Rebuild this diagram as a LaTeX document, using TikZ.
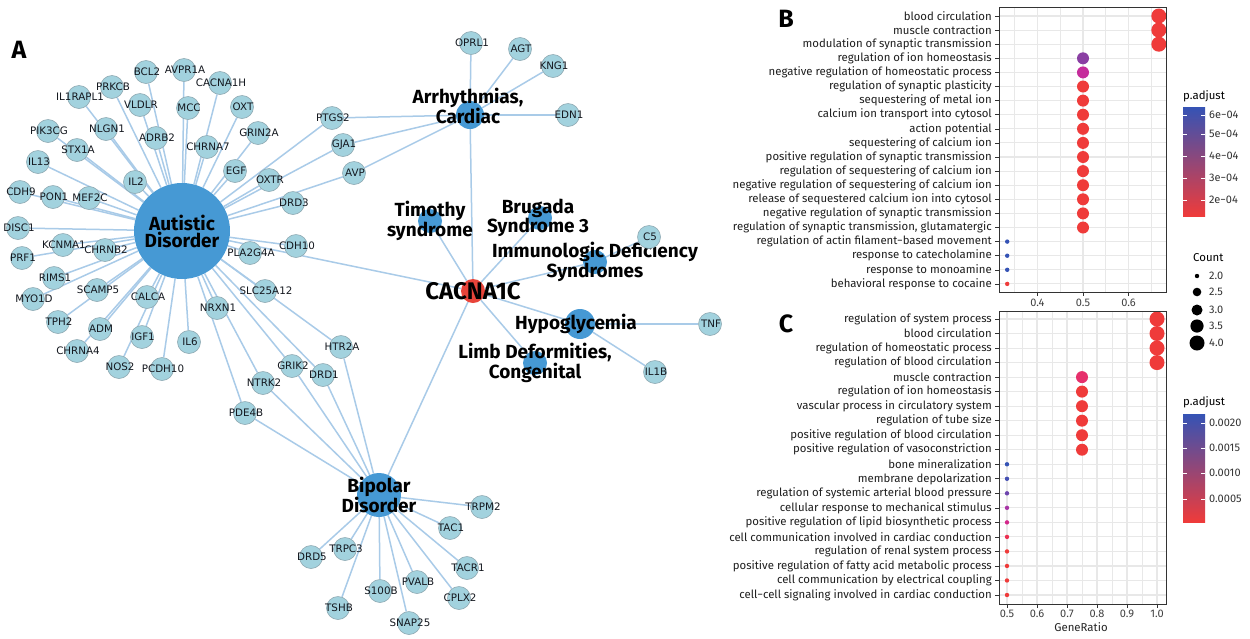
\documentclass[tikz,border=0pt]{standalone}
\usepackage{fontspec}
\setmainfont{Fira Sans}
\newfontfamily\genefont{DejaVu Sans}
\usetikzlibrary{backgrounds}
\definecolor{edgec}{HTML}{A9CBE8}
\definecolor{genec}{HTML}{A2D2DE}
\definecolor{genebd}{HTML}{8FAAB3}
\definecolor{gtxt}{HTML}{14181F}
\definecolor{disc}{HTML}{4699D4}
\definecolor{cacc}{HTML}{E8443A}
\definecolor{pred}{HTML}{EF3B3A}
\definecolor{pred2}{HTML}{EC3152}
\definecolor{ppink}{HTML}{E6306C}
\definecolor{pblue}{HTML}{3553B5}
\definecolor{pblue2}{HTML}{4550B3}
\definecolor{ppurp}{HTML}{8A3FA3}
\definecolor{ppurp2}{HTML}{6E45AE}
\definecolor{pmag}{HTML}{C52C9B}
\definecolor{pmag2}{HTML}{A936A6}
\definecolor{pmag3}{HTML}{D3278A}
\definecolor{gridc}{HTML}{E8E8E8}
\definecolor{axc}{HTML}{333333}
\newcommand\gn[2]{\node[gene,label={[glab]center:#1}] (#1) at (#2) {};}
\begin{document}
\begin{tikzpicture}[x=1pt,y=-1pt,
  edge/.style={draw=edgec,line width=1.5pt},
  gene/.style={circle,fill=genec,draw=genebd,line width=0.6pt,minimum size=23pt,inner sep=0pt},
  glab/.style={font=\genefont\fontsize{10.3}{11}\selectfont,text=gtxt,inner sep=0pt,xshift=1pt},
  dis/.style={circle,fill=disc,inner sep=0pt},
  dlab/.style={font=\bfseries\fontsize{19}{17}\selectfont,align=center,text=black,inner sep=0pt},
  rowlab/.style={anchor=east,font=\fontsize{11.4}{12}\selectfont,text=black!88,inner sep=0pt},
  ticklab/.style={font=\fontsize{11}{12}\selectfont,text=black!75,inner sep=0pt},
  legt/.style={anchor=west,font=\fontsize{11.4}{12}\selectfont,inner sep=0pt},
  legv/.style={anchor=west,font=\fontsize{11}{12}\selectfont,text=black!80,inner sep=0pt},
  plab/.style={font=\bfseries\fontsize{25}{25}\selectfont,inner sep=0pt},
  axl/.style={draw=axc,line width=0.6pt},
]
\useasboundingbox (0,0) rectangle (1250,638);
% ---------------- panel A ----------------
\node[plab] (labA) at (19,50) {A};
\node[dis,minimum size=96pt,label={[dlab]center:Autistic\\Disorder}] (aut) at (182,231) {};
\node[dis,minimum size=28pt,label={[dlab,yshift=9pt,xshift=-2pt]center:Arrhythmias,\\Cardiac}] (arr) at (470,115) {};
\node[dis,minimum size=24pt,label={[dlab]center:Timothy\\syndrome}] (tim) at (430,221) {};
\node[dis,minimum size=24pt,label={[dlab,xshift=-2pt]center:Brugada\\Syndrome 3}] (bru) at (540,218) {};
\node[dis,minimum size=24pt,label={[dlab]center:Immunologic Deficiency\\Syndromes}] (imm) at (595,262) {};
\node[dis,minimum size=30pt,label={[dlab,xshift=-4pt]center:Hypoglycemia}] (hyp) at (580,324) {};
\node[dis,minimum size=24pt,label={[dlab]center:Limb Deformities,\\Congenital}] (limb) at (535,363) {};
\node[dis,minimum size=44pt,label={[dlab]center:Bipolar\\Disorder}] (bip) at (379,495) {};
\node[circle,fill=cacc,inner sep=0pt,minimum size=24pt,label={[font=\bfseries\fontsize{24}{24}\selectfont,inner sep=0pt]center:CACNA1C}] (cac) at (473,291) {};
% genes
\gn{BCL2}{146,72}
\gn{AVPR1A}{184,70}
\gn{CACNA1H}{220,83}
\gn{PRKCB}{112,87}
\gn{IL1RAPL1}{79,97}
\gn{VLDLR}{140,105}
\gn{MCC}{188,108}
\gn{OXT}{242,107}
\gn{PIK3CG}{48,131}
\gn{NLGN1}{106,129}
\gn{ADRB2}{156,138}
\gn{CHRNA7}{207,147}
\gn{GRIN2A}{258,133}
\gn{STX1A}{77,150}
\gn{IL13}{38,162}
\gn{EGF}{235,171}
\gn{IL2}{135,182}
\gn{OXTR}{269,180}
\gn{CDH9}{20,192}
\gn{PON1}{53,197}
\gn{MEF2C}{89,198}
\gn{DRD3}{293,203}
\gn{DISC1}{18,228}
\gn{KCNMA1}{63,245}
\gn{CHRNB2}{105,250}
\gn{PRF1}{22,258}
\gn{PLA2G4A}{250,253}
\gn{CDH10}{296,246}
\gn{RIMS1}{54,278}
\gn{SCAMP5}{97,290}
\gn{CALCA}{147,297}
\gn{SLC25A12}{265,291}
\gn{MYO1D}{33,299}
\gn{NRXN1}{217,308}
\gn{TPH2}{58,322}
\gn{ADM}{100,329}
\gn{IGF1}{142,337}
\gn{IL6}{189,342}
\gn{CHRNA4}{77,351}
\gn{NOS2}{119,367}
\gn{PCDH10}{162,369}
\gn{PTGS2}{332,118}
\gn{GJA1}{343,145}
\gn{AVP}{354,173}
\gn{HTR2A}{341,347}
\gn{DRD1}{323,375}
\gn{GRIK2}{292,366}
\gn{NTRK2}{263,383}
\gn{PDE4B}{245,413}
\gn{OPRL1}{471,43}
\gn{AGT}{520,49}
\gn{KNG1}{553,66}
\gn{EDN1}{568,115}
\gn{C5}{649,237}
\gn{TNF}{710,324}
\gn{IL1B}{655,372}
\gn{TRPM2}{482,507}
\gn{TAC1}{450,528}
\gn{TACR1}{467,568}
\gn{CPLX2}{459,598}
\gn{PVALB}{417,582}
\gn{S100B}{380,591}
\gn{SNAP25}{409,623}
\gn{TSHB}{338,608}
\gn{TRPC3}{345,549}
\gn{DRD5}{311,557}
\begin{scope}[on background layer]
\fill[white] (0,0) rectangle (1250,638);
\foreach \g in {BCL2,AVPR1A,CACNA1H,PRKCB,IL1RAPL1,VLDLR,MCC,OXT,PIK3CG,NLGN1,ADRB2,CHRNA7,GRIN2A,STX1A,IL13,EGF,IL2,OXTR,CDH9,PON1,MEF2C,DRD3,DISC1,KCNMA1,CHRNB2,PRF1,PLA2G4A,CDH10,RIMS1,SCAMP5,CALCA,SLC25A12,MYO1D,NRXN1,TPH2,ADM,IGF1,IL6,CHRNA4,NOS2,PCDH10,PTGS2,GJA1,AVP,HTR2A,DRD1,GRIK2,NTRK2,PDE4B,cac}
  \draw[edge] (aut) -- (\g);
\foreach \g in {OPRL1,AGT,KNG1,EDN1,PTGS2,GJA1,AVP,cac}
  \draw[edge] (arr) -- (\g);
\foreach \g in {PDE4B,NTRK2,GRIK2,DRD1,HTR2A,TRPM2,TAC1,TACR1,CPLX2,PVALB,SNAP25,S100B,TSHB,TRPC3,DRD5,cac}
  \draw[edge] (bip) -- (\g);
\foreach \g in {C5,cac} \draw[edge] (imm) -- (\g);
\foreach \g in {TNF,IL1B,cac} \draw[edge] (hyp) -- (\g);
\draw[edge] (tim) -- (cac);
\draw[edge] (bru) -- (cac);
\draw[edge] (limb) -- (cac);
\end{scope}
% ---------------- panel B ----------------
\node[plab] (labB) at (786,19) {B};
\fill[white] (999,7.5) rectangle (1166,292.5);
\foreach \v in {1014.75,1060.25,1105.75,1151.25} \draw[gridc,line width=0.6pt] (\v,7.5) -- (\v,292.5);
\foreach \v in {1037.5,1083,1128.5} \draw[gridc,line width=1.1pt] (\v,7.5) -- (\v,292.5);
\foreach \i in {1,...,20} {\pgfmathsetmacro\yy{16+(\i-1)*14.1}\draw[gridc,line width=1.1pt] (999,\yy) -- (1166,\yy);}
\foreach \t [count=\i] in {blood circulation,muscle contraction,modulation of synaptic transmission,regulation of ion homeostasis,negative regulation of homeostatic process,regulation of synaptic plasticity,sequestering of metal ion,calcium ion transport into cytosol,action potential,sequestering of calcium ion,positive regulation of synaptic transmission,regulation of sequestering of calcium ion,negative regulation of sequestering of calcium ion,release of sequestered calcium ion into cytosol,negative regulation of synaptic transmission,{regulation of synaptic transmission, glutamatergic},regulation of actin filament−based movement,response to catecholamine,response to monoamine,behavioral response to cocaine}
  {\pgfmathsetmacro\yy{16+(\i-1)*14.1}
   \node[rowlab] (bl\i) at (992,\yy) {\t};
   \draw[axl] (995,\yy) -- (999,\yy);}
\foreach \i/\v/\r/\c in {1/1158.8/7.5/pred,2/1158.8/7.5/pred,3/1158.8/7.5/pred,4/1083/6/ppurp,5/1083/6/pmag,6/1083/6/pred,7/1083/6/pred,8/1083/6/pred,9/1083/6/pred,10/1083/6/pred,11/1083/6/pred,12/1083/6/pred,13/1083/6/pred,14/1083/6/pred,15/1083/6/pred,16/1083/6/pred,17/1007.2/2.2/pblue,18/1007.2/2.2/pblue,19/1007.2/2.2/pblue,20/1007.2/2.2/pred}
  {\pgfmathsetmacro\yy{16+(\i-1)*14.1}\fill[\c] (\v,\yy) circle (\r pt);}
\draw[axc,line width=0.8pt] (999,7.5) rectangle (1166,292.5);
\foreach \v/\t in {1037.5/0.4,1083/0.5,1128.5/0.6}
  {\draw[axl] (\v,292.5) -- (\v,296); \node[ticklab] (bx\t) at (\v,302.5) {\t};}
% legend p.adjust B
\node[legt] (bpt) at (1183,96) {p.adjust};
\shade[top color=pblue,middle color=pmag,bottom color=pred] (1183,107) rectangle (1205,216);
\foreach \yy/\t in {115/6e−04,134/5e−04,156/4e−04,178/3e−04,200/2e−04}
  {\draw[white,line width=0.6pt] (1183,\yy) -- (1187,\yy) (1201,\yy) -- (1205,\yy);
   \node[legv] (bp\yy) at (1209,\yy) {\t};}
% Count legend
\node[legt] (cnt) at (1193,258) {Count};
\foreach \yy/\r/\t in {276/2.2/2.0,292/4.3/2.5,310/5.5/3.0,326/6.6/3.5,343/7.5/4.0}
  {\fill[black] (1197,\yy) circle (\r pt); \node[legv] (cv\yy) at (1209,\yy) {\t};}
% ---------------- panel C ----------------
\node[plab] (labC) at (786,324) {C};
\fill[white] (999,311) rectangle (1166,604);
\foreach \v in {1022,1052,1082,1112,1142} \draw[gridc,line width=0.6pt] (\v,311) -- (\v,604);
\foreach \v in {1007,1037,1067,1097,1127,1157} \draw[gridc,line width=1.1pt] (\v,311) -- (\v,604);
\foreach \i in {1,...,20} {\pgfmathsetmacro\yy{319+(\i-1)*14.526}\draw[gridc,line width=1.1pt] (999,\yy) -- (1166,\yy);}
\foreach \t [count=\i] in {regulation of system process,blood circulation,regulation of homeostatic process,regulation of blood circulation,muscle contraction,regulation of ion homeostasis,vascular process in circulatory system,regulation of tube size,positive regulation of blood circulation,positive regulation of vasoconstriction,bone mineralization,membrane depolarization,regulation of systemic arterial blood pressure,cellular response to mechanical stimulus,positive regulation of lipid biosynthetic process,cell communication involved in cardiac conduction,regulation of renal system process,positive regulation of fatty acid metabolic process,cell communication by electrical coupling,cell−cell signaling involved in cardiac conduction}
  {\pgfmathsetmacro\yy{319+(\i-1)*14.526}
   \node[rowlab] (cl\i) at (992,\yy) {\t};
   \draw[axl] (995,\yy) -- (999,\yy);}
\foreach \i/\v/\r/\c in {1/1157/7.5/pred,2/1157/7.5/pred,3/1157/7.5/pred,4/1157/7.5/pred,5/1082/6/ppink,6/1082/6/pred,7/1082/6/pred,8/1082/6/pred,9/1082/6/pred,10/1082/6/pred,11/1007/2.2/pblue,12/1007/2.2/pblue2,13/1007/2.2/ppurp2,14/1007/2.2/pmag2,15/1007/2.2/pmag3,16/1007/2.2/pred2,17/1007/2.2/pred,18/1007/2.2/pred,19/1007/2.2/pred,20/1007/2.2/pred}
  {\pgfmathsetmacro\yy{319+(\i-1)*14.526}\fill[\c] (\v,\yy) circle (\r pt);}
\draw[axc,line width=0.8pt] (999,311) rectangle (1166,604);
\foreach \v/\t in {1007/0.5,1037/0.6,1067/0.7,1097/0.8,1127/0.9,1157/1.0}
  {\draw[axl] (\v,604) -- (\v,607.5); \node[ticklab] (cx\t) at (\v,613.5) {\t};}
\node[font=\fontsize{11.4}{12}\selectfont,text=black!85,inner sep=0pt] (gr) at (1081,627.5) {GeneRatio};
% legend p.adjust C
\node[legt] (cpt) at (1183,402) {p.adjust};
\shade[top color=pblue,middle color=pmag,bottom color=pred] (1183,414) rectangle (1205,522);
\foreach \yy/\t in {423/0.0020,448/0.0015,473/0.0010,499/0.0005}
  {\draw[white,line width=0.6pt] (1183,\yy) -- (1187,\yy) (1201,\yy) -- (1205,\yy);
   \node[legv] (cp\yy) at (1209,\yy) {\t};}
\end{tikzpicture}
\end{document}
